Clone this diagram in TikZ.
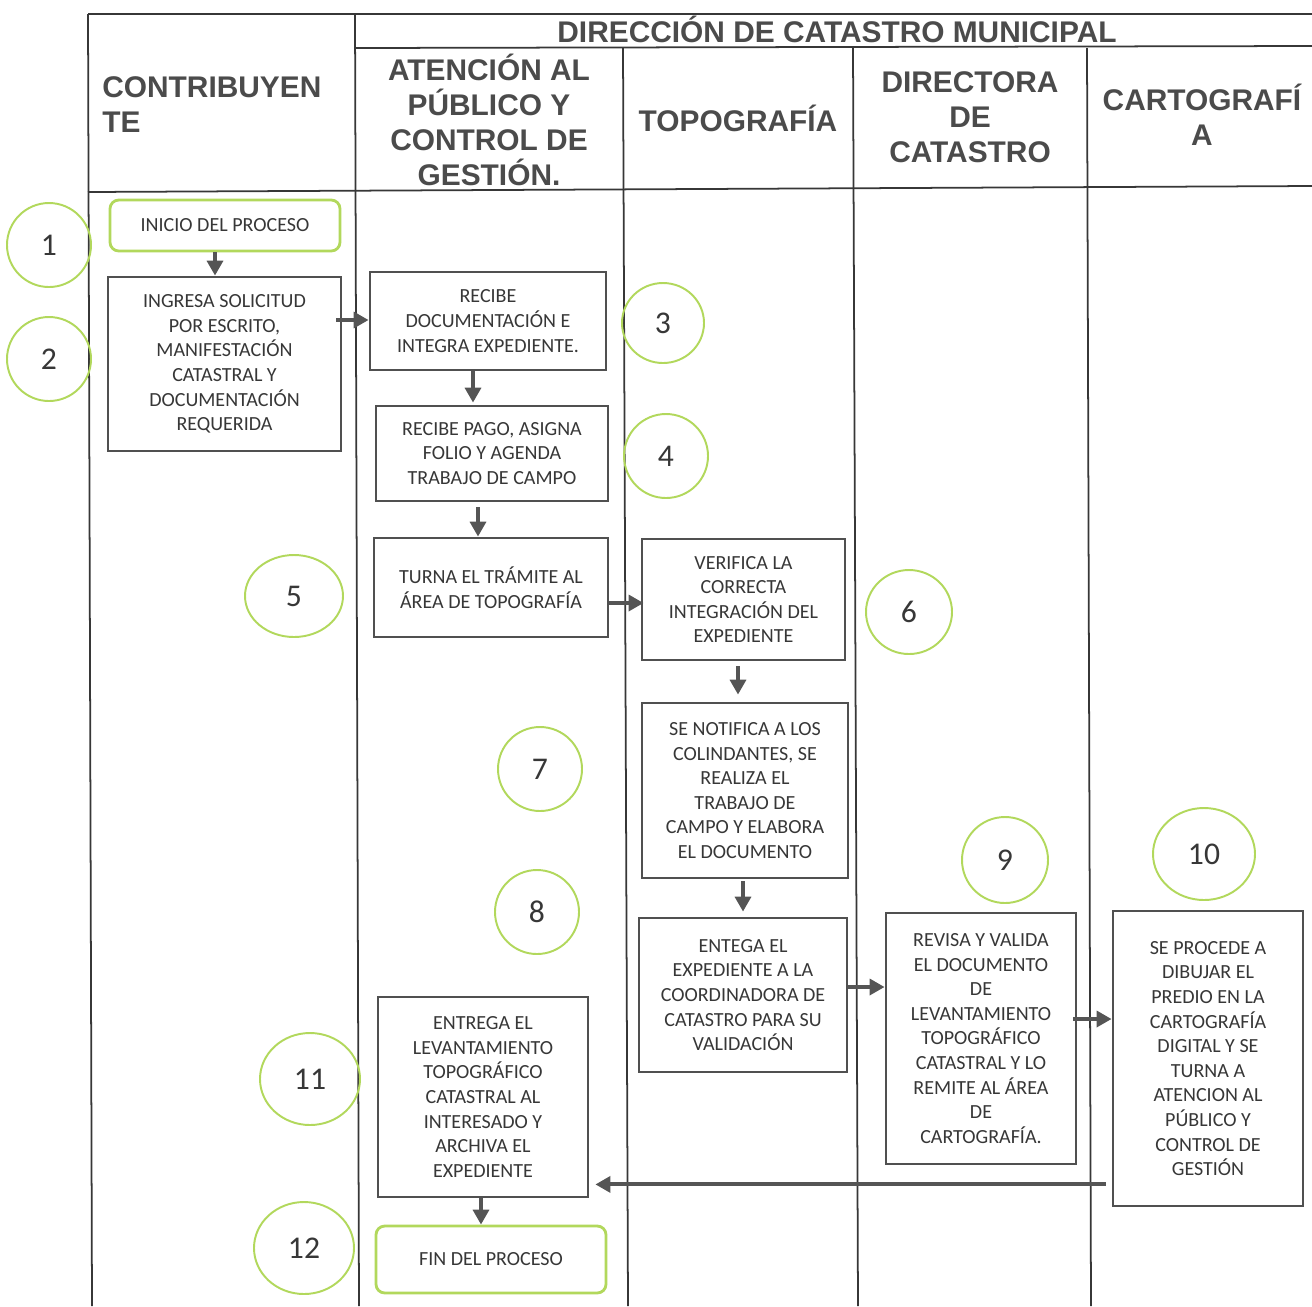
\documentclass[tikz,border=0pt]{standalone}
\usepackage{fontspec}
\setmainfont{Carlito}
\newfontfamily\headfam{Liberation Sans}
\usetikzlibrary{arrows.meta,calc,shapes.geometric}
\definecolor{boxline}{RGB}{80,80,80}
\definecolor{gridline}{RGB}{55,55,55}
\definecolor{txt}{RGB}{55,55,55}
\definecolor{headtxt}{RGB}{75,75,75}
\definecolor{numgreen}{RGB}{178,216,92}
\definecolor{arrgray}{RGB}{85,85,85}
\begin{document}
\begin{tikzpicture}[x=0.02cm,y=-0.02cm,
  box/.style={draw=boxline, line width=1.6pt, text=txt, align=center, inner sep=0pt,
    font=\fontsize{11.4}{14}\selectfont},
  termbox/.style={box, draw=numgreen, rounded corners=5pt},
  num/.style={ellipse, draw=numgreen, line width=1.1pt, inner sep=0pt, text=txt,
    font=\fontsize{18}{20}\selectfont},
  head/.style={text=headtxt, align=center, inner sep=0pt,
    font=\headfam\bfseries\fontsize{17}{19.9}\selectfont},
  lane/.style={draw=gridline, line width=1pt},
  arr/.style={draw=arrgray, line width=2.2pt, -{Triangle[length=8.5pt,width=9pt]}}
]
\useasboundingbox[fill=white] (0,0) rectangle (1312,1306);

% lanes
\draw[lane] (88,14) -- (1312,14);
\draw[lane] (355,48) -- (1312,46);
\draw[lane] (88,192) -- (1312,186);
\draw[lane] (88,14) -- (92,1306);
\draw[lane] (355,14) -- (359,1306);
\draw[lane] (623,48) -- (628,1306);
\draw[lane] (853,48) -- (858,1306);
\draw[lane] (1087,48) -- (1091,1306);

% headers
\node[head, anchor=west, align=left] (hcon) at (102,105) {CONTRIBUYEN\\TE};
\node[head] (hdir) at (837,29) {DIRECCIÓN DE CATASTRO MUNICIPAL};
\node[head] (hat) at (489,120) {ATENCIÓN AL\\PÚBLICO Y\\CONTROL DE\\GESTIÓN.};
\node[head] (htop) at (738,118) {TOPOGRAFÍA};
\node[head] (hdc) at (970,117) {DIRECTORA\\DE\\CATASTRO};
\node[head] (hcar) at (1202,115) {CARTOGRAFÍ\\A};

% boxes
\node[termbox, minimum width={230*0.02cm}, minimum height={51*0.02cm}] (b1) at (225,225.5) {INICIO DEL PROCESO};
\node[box, minimum width={233*0.02cm}, minimum height={174*0.02cm}] (b2) at (224.5,364) {INGRESA SOLICITUD\\POR ESCRITO,\\MANIFESTACIÓN\\CATASTRAL Y\\DOCUMENTACIÓN\\REQUERIDA};
\node[box, minimum width={236*0.02cm}, minimum height={98*0.02cm}] (b3) at (488,321) {RECIBE\\DOCUMENTACIÓN E\\INTEGRA EXPEDIENTE.};
\node[box, minimum width={232*0.02cm}, minimum height={95*0.02cm}] (b4) at (492,453.5) {RECIBE PAGO, ASIGNA\\FOLIO Y AGENDA\\TRABAJO DE CAMPO};
\node[box, minimum width={234*0.02cm}, minimum height={99*0.02cm}] (b5) at (491,587.5) {TURNA EL TRÁMITE AL\\ÁREA DE TOPOGRAFÍA};
\node[box, minimum width={203*0.02cm}, minimum height={121*0.02cm}] (b6) at (743.5,599.5) {VERIFICA LA\\CORRECTA\\INTEGRACIÓN DEL\\EXPEDIENTE};
\node[box, minimum width={206*0.02cm}, minimum height={175*0.02cm}] (b7) at (745,790.5) {SE NOTIFICA A LOS\\COLINDANTES, SE\\REALIZA EL\\TRABAJO DE\\CAMPO Y ELABORA\\EL DOCUMENTO};
\node[box, minimum width={208*0.02cm}, minimum height={154*0.02cm}] (b8) at (743,995) {ENTEGA EL\\EXPEDIENTE A LA\\COORDINADORA DE\\CATASTRO PARA SU\\VALIDACIÓN};
\node[box, minimum width={190*0.02cm}, minimum height={251*0.02cm}] (b9) at (981,1038.5) {REVISA Y VALIDA\\EL DOCUMENTO\\DE\\LEVANTAMIENTO\\TOPOGRÁFICO\\CATASTRAL Y LO\\REMITE AL ÁREA\\DE\\CARTOGRAFÍA.};
\node[box, minimum width={190*0.02cm}, minimum height={295*0.02cm}] (b10) at (1208,1058.5) {SE PROCEDE A\\DIBUJAR EL\\PREDIO EN LA\\CARTOGRAFÍA\\DIGITAL Y SE\\TURNA A\\ATENCION AL\\PÚBLICO Y\\CONTROL DE\\GESTIÓN};
\node[box, minimum width={210*0.02cm}, minimum height={200*0.02cm}] (b11) at (483,1097) {ENTREGA EL\\LEVANTAMIENTO\\TOPOGRÁFICO\\CATASTRAL AL\\INTERESADO Y\\ARCHIVA EL\\EXPEDIENTE};
\node[termbox, minimum width={230*0.02cm}, minimum height={67*0.02cm}] (b12) at (491,1259.5) {FIN DEL PROCESO};

% numbers
\node[num, minimum width={84*0.02cm}, minimum height={84*0.02cm}] (c1) at (49,245) {1};
\node[num, minimum width={84*0.02cm}, minimum height={84*0.02cm}] (c2) at (49,359) {2};
\node[num, minimum width={82*0.02cm}, minimum height={80*0.02cm}] (c3) at (663,323) {3};
\node[num, minimum width={84*0.02cm}, minimum height={84*0.02cm}] (c4) at (666,456) {4};
\node[num, minimum width={98*0.02cm}, minimum height={82*0.02cm}] (c5) at (294,596) {5};
\node[num, minimum width={86*0.02cm}, minimum height={84*0.02cm}] (c6) at (909,612) {6};
\node[num, minimum width={84*0.02cm}, minimum height={84*0.02cm}] (c7) at (540,769) {7};
\node[num, minimum width={84*0.02cm}, minimum height={84*0.02cm}] (c8) at (537,912) {8};
\node[num, minimum width={86*0.02cm}, minimum height={86*0.02cm}] (c9) at (1005,860) {9};
\node[num, minimum width={102*0.02cm}, minimum height={92*0.02cm}] (c10) at (1204,854) {10};
\node[num, minimum width={100*0.02cm}, minimum height={92*0.02cm}] (c11) at (310,1079) {11};
\node[num, minimum width={100*0.02cm}, minimum height={92*0.02cm}] (c12) at (304,1248) {12};

% connectors
\coordinate (p1) at ($(b1.south)+(-10,0)$);
\draw[arr] (p1) -- (p1 |- b2.north);
\coordinate (p2) at ($(b2.east)+(-6,-44)$);
\draw[arr] (p2) -- (p2 -| b3.west);
\coordinate (p3) at ($(b3.south)+(-15,0)$);
\draw[arr] (p3) -- ($(p3 |- b4.north)+(0,-2)$);
\coordinate (p4) at ($(b4.south)+(-14,5)$);
\draw[arr] (p4) -- (p4 |- b5.north);
\coordinate (p5) at ($(b5.east)+(0,15.5)$);
\draw[arr] (p5) -- ($(p5 -| b6.west)+(3,0)$);
\coordinate (p6) at ($(b6.south)+(-5.5,5)$);
\draw[arr] (p6) -- ($(p6 |- b7.north)+(0,-7)$);
\coordinate (p7) at ($(b7.south)+(-2,2)$);
\draw[arr] (p7) -- ($(p7 |- b8.north)+(0,-5)$);
\coordinate (p8) at ($(b8.east)+(0,-8)$);
\draw[arr] (p8) -- (p8 -| b9.west);
\coordinate (p9) at ($(b9.east)+(-4,-19.5)$);
\draw[arr] (p9) -- (p9 -| b10.west);
\coordinate (p10) at ($(b10.south west)+(-6,-23)$);
\draw[arr] (p10) -- ($(p10 -| b11.east)+(6,0)$);
\coordinate (p11) at ($(b11.south)+(-2,0)$);
\draw[arr] (p11) -- (p11 |- b12.north);
\end{tikzpicture}
\end{document}
